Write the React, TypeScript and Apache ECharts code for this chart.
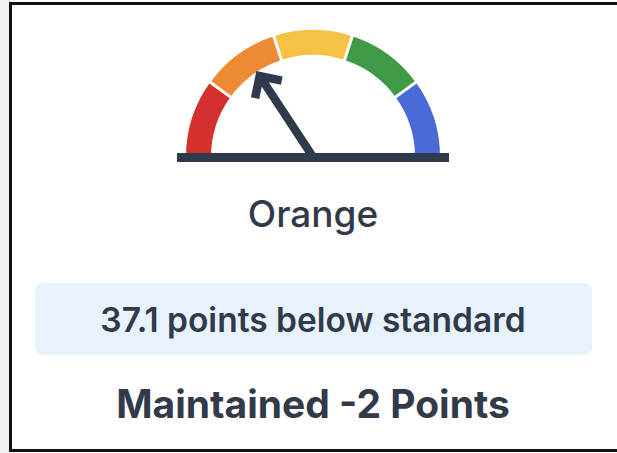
import React, { useEffect, useRef } from "react";
import * as echarts from "echarts";

// ---- data ----
const bandNames = ["Red", "Orange", "Yellow", "Green", "Blue"];
const bandStops = [0.2, 0.4, 0.6, 0.8, 1.0];
const bandColors = ["#d5302d", "#ee8a31", "#f6c244", "#3f9b45", "#4869d6"];
const gaugeMin = -100;
const gaugeMax = 100;
const distanceFromStandard = [-37.1];
const statusLabel = "Orange";
const distanceText = "37.1 points below standard";
const changeText = "Maintained -2 Points";

const INK = "#2f3a4c";
const TEXT = "#323a4a";
const FONT = "Inter, 'Noto Sans', sans-serif";

// arrow pointer path (tip at top, base at bottom)
const ARROW =
  "path://M0 -6 L19 13 L13 19 L4.2 10.2 L4.2 97 L-4.2 97 L-4.2 10.2 L-13 19 L-19 13 Z";

export default function App() {
  const ref = useRef<HTMLDivElement>(null);
  useEffect(() => {
    if (!ref.current) return;
    const chart = echarts.init(ref.current, undefined, { renderer: "svg" });
    const cx = 313;
    const cy = 157;
    chart.setOption({
      animation: false,
      backgroundColor: "#ffffff",
      series: [
        {
          type: "gauge",
          center: [cx, cy],
          radius: 127,
          startAngle: 180,
          endAngle: 0,
          min: gaugeMin,
          max: gaugeMax,
          splitNumber: bandNames.length,
          z: 2,
          axisLine: {
            lineStyle: {
              width: 25,
              color: bandStops.map((s, i) => [s, bandColors[i]]),
            },
          },
          splitLine: {
            show: true,
            distance: -26,
            length: 27,
            lineStyle: { color: "#ffffff", width: 3 },
          },
          axisTick: { show: false },
          axisLabel: { show: false },
          pointer: {
            show: true,
            icon: ARROW,
            width: 38,
            length: 103,
            offsetCenter: [0, 0],
            itemStyle: { color: INK },
          },
          anchor: { show: false },
          title: { show: false },
          detail: { show: false },
          data: distanceFromStandard.map((v) => ({ value: v, name: statusLabel })),
        },
      ],
      graphic: [
        { type: "rect", z: -10, shape: { x: 0, y: 0, width: 9, height: 453 }, style: { fill: "#f2f2f2" } },
        {
          type: "rect",
          z: -9,
          shape: { x: 10.5, y: 3.5, width: 700, height: 447 },
          style: { fill: "#ffffff", stroke: "#111111", lineWidth: 3 },
        },
        {
          type: "rect",
          z: 10,
          shape: { x: 177, y: 153, width: 272, height: 9 },
          style: { fill: INK },
        },
        {
          type: "text",
          z: 10,
          x: 313,
          y: 213,
          style: {
            text: statusLabel,
            font: `500 37px ${FONT}`,
            fill: TEXT,
            align: "center",
            verticalAlign: "middle",
          },
        },
        {
          type: "rect",
          z: 5,
          shape: { x: 35, y: 283, width: 557, height: 72, r: 8 },
          style: { fill: "#e8f2fd" },
        },
        {
          type: "text",
          z: 10,
          x: 313,
          y: 320,
          style: {
            text: distanceText,
            font: `600 33.5px ${FONT}`,
            fill: TEXT,
            align: "center",
            verticalAlign: "middle",
          },
        },
        {
          type: "text",
          z: 10,
          x: 313,
          y: 403,
          style: {
            text: changeText,
            font: `700 39px ${FONT}`,
            fill: TEXT,
            align: "center",
            verticalAlign: "middle",
          },
        },
      ],
    });
    return () => chart.dispose();
  }, []);
  return (
    <div
      ref={ref}
      style={{ position: "fixed", left: 0, top: 0, width: 617, height: 453 }}
    />
  );
}
